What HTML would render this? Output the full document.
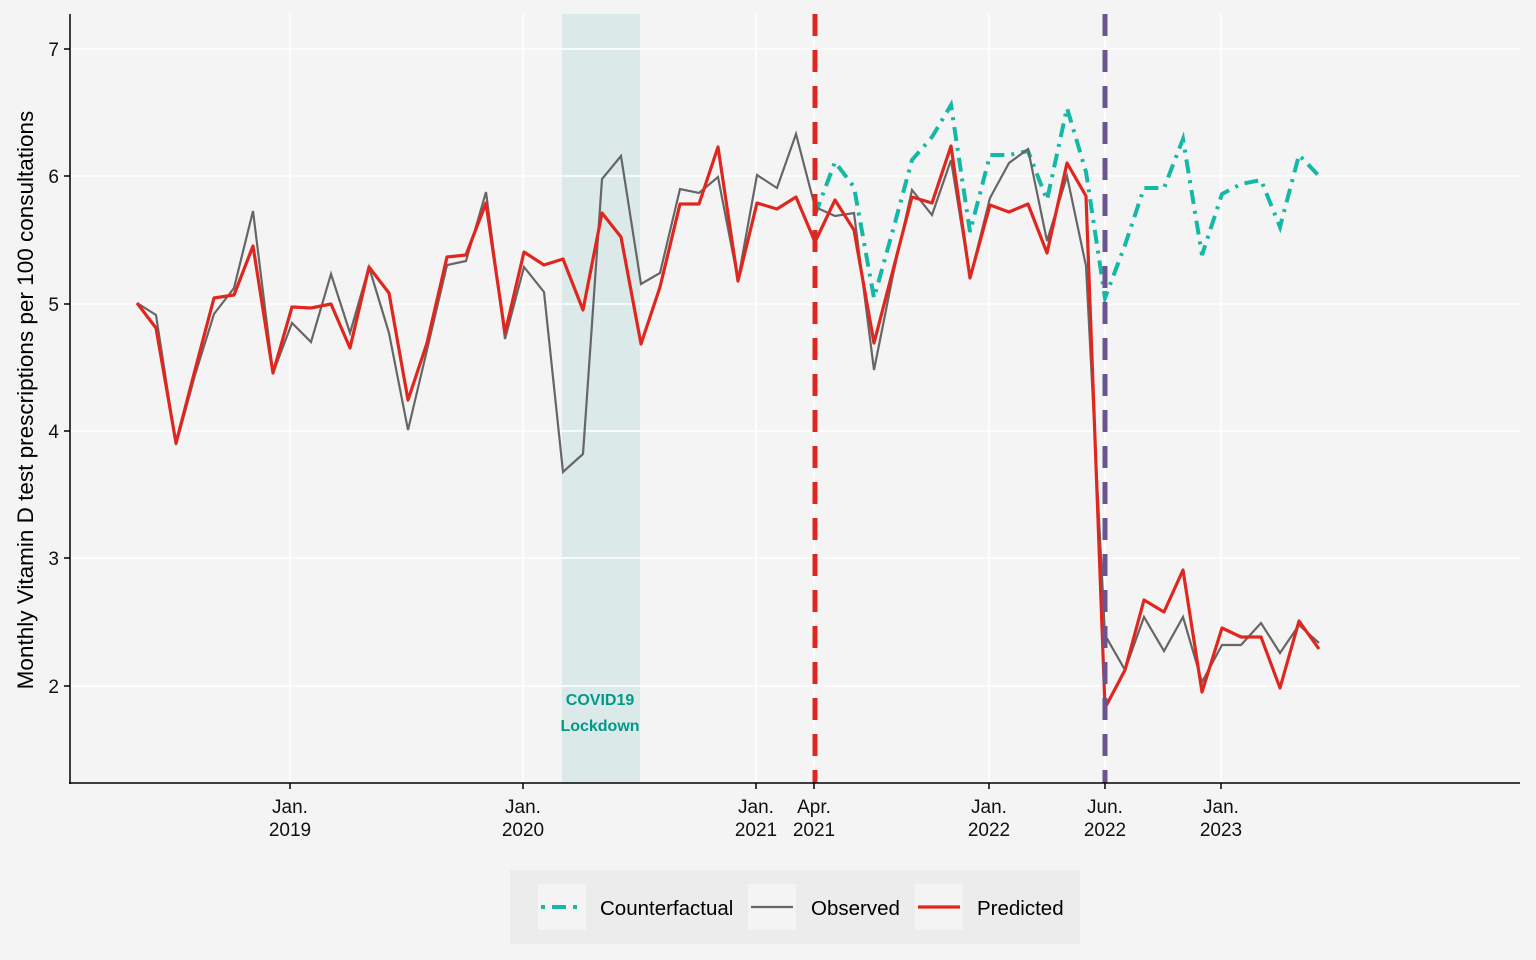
<!DOCTYPE html>
<html><head><meta charset="utf-8"><style>
body{margin:0;background:#f4f4f4;}
svg{display:block;font-family:"Liberation Sans",Arial,sans-serif;}
</style></head><body>
<svg width="1536" height="960" viewBox="0 0 1536 960" xmlns="http://www.w3.org/2000/svg">
<rect width="1536" height="960" fill="#f4f4f4"/>
<rect x="562" y="14" width="78" height="769" fill="#dbe9e8"/>
<g stroke="#ffffff" stroke-width="1.6" fill="none">
<line x1="70" y1="49" x2="1520" y2="49"/><line x1="70" y1="176" x2="1520" y2="176"/>
<line x1="70" y1="304" x2="1520" y2="304"/><line x1="70" y1="431" x2="1520" y2="431"/>
<line x1="70" y1="558" x2="1520" y2="558"/><line x1="70" y1="686" x2="1520" y2="686"/>
<line x1="290" y1="14" x2="290" y2="783"/><line x1="523" y1="14" x2="523" y2="783"/>
<line x1="756" y1="14" x2="756" y2="783"/><line x1="814" y1="14" x2="814" y2="783"/>
<line x1="989" y1="14" x2="989" y2="783"/><line x1="1105" y1="14" x2="1105" y2="783"/>
<line x1="1221" y1="14" x2="1221" y2="783"/>
</g>
<text x="600" y="705" fill="#00998a" font-size="16" font-weight="bold" text-anchor="middle">COVID19</text>
<text x="600" y="731" fill="#00998a" font-size="16" font-weight="bold" text-anchor="middle">Lockdown</text>
<polyline fill="none" stroke="#14b8a6" stroke-width="4" stroke-dasharray="14 7 3 7" points="815,215 835,162 854,187 874,298 893,230 912,160 932,137 951,105 970,232 990,155 1009,155 1028,151 1047,200 1067,108 1086,172 1105,298 1125,245 1144,188 1164,188 1183,139 1202,255 1222,194 1241,184 1261,180 1280,227 1299,155 1319,176"/>
<polyline fill="none" stroke="#666666" stroke-width="2.2" points="137,303 156,315 176,445 195,375 214,314 234,288 253,211 273,373 292,323 311,342 331,274 350,333 369,267 389,333 408,430 427,350 447,265 466,261 486,192 505,339 524,267 544,292 563,472 583,454 602,179 621,156 641,284 660,273 680,189 699,193 718,177 738,280 757,175 777,188 796,134 815,207 835,216 854,213 874,370 893,275 912,190 932,215 951,160 970,278 990,198 1009,163 1028,149 1047,241 1067,176 1086,266 1105,635 1125,670 1144,617 1164,651 1183,617 1202,682 1222,645 1241,645 1261,623 1280,653 1299,625 1319,643"/>
<polyline fill="none" stroke="#e0271f" stroke-width="3.2" stroke-linejoin="round" points="137,303 156,328 176,443 195,370 214,298 234,295 253,246 273,373 292,307 311,308 331,304 350,348 369,267 389,293 408,400 427,343 447,257 466,255 486,203 505,333 524,252 544,265 563,259 583,310 602,213 621,237 641,344 660,287 680,204 699,204 718,147 738,281 757,203 777,209 796,197 815,242 835,200 854,230 874,343 893,270 912,197 932,203 951,146 970,278 990,205 1009,212 1028,204 1047,253 1067,163 1086,196 1105,708 1125,670 1144,600 1164,612 1183,570 1202,692 1222,628 1241,637 1261,637 1280,688 1299,621 1319,649"/>
<line x1="815" y1="14" x2="815" y2="783" stroke="#e0271f" stroke-width="5" stroke-dasharray="22 14"/>
<line x1="1105" y1="14" x2="1105" y2="783" stroke="#6a5590" stroke-width="5" stroke-dasharray="22 14"/>
<g stroke="#000" stroke-width="1.5">
<line x1="70" y1="14" x2="70" y2="784"/><line x1="69" y1="783" x2="1520" y2="783"/>
<line x1="64" y1="49" x2="70" y2="49"/><line x1="64" y1="176" x2="70" y2="176"/><line x1="64" y1="304" x2="70" y2="304"/>
<line x1="64" y1="431" x2="70" y2="431"/><line x1="64" y1="558" x2="70" y2="558"/><line x1="64" y1="686" x2="70" y2="686"/>
<line x1="290" y1="783" x2="290" y2="789"/><line x1="523" y1="783" x2="523" y2="789"/><line x1="756" y1="783" x2="756" y2="789"/>
<line x1="814" y1="783" x2="814" y2="789"/><line x1="989" y1="783" x2="989" y2="789"/><line x1="1105" y1="783" x2="1105" y2="789"/>
<line x1="1221" y1="783" x2="1221" y2="789"/>
</g>
<g font-size="19" fill="#111" text-anchor="end">
<text x="59" y="56">7</text><text x="59" y="183">6</text><text x="59" y="311">5</text>
<text x="59" y="438">4</text><text x="59" y="565">3</text><text x="59" y="693">2</text>
</g>
<g font-size="19" fill="#111" text-anchor="middle">
<text x="290" y="813">Jan.</text><text x="290" y="836">2019</text>
<text x="523" y="813">Jan.</text><text x="523" y="836">2020</text>
<text x="756" y="813">Jan.</text><text x="756" y="836">2021</text>
<text x="814" y="813">Apr.</text><text x="814" y="836">2021</text>
<text x="989" y="813">Jan.</text><text x="989" y="836">2022</text>
<text x="1105" y="813">Jun.</text><text x="1105" y="836">2022</text>
<text x="1221" y="813">Jan.</text><text x="1221" y="836">2023</text>
</g>
<text transform="translate(33,400) rotate(-90)" font-size="22.5" fill="#000" text-anchor="middle">Monthly Vitamin D test prescriptions per 100 consultations</text>
<rect x="510" y="870" width="570" height="74" fill="#ececec"/>
<rect x="538" y="884" width="48" height="46" fill="#f4f4f4"/>
<rect x="748" y="884" width="48" height="46" fill="#f4f4f4"/>
<rect x="915" y="884" width="48" height="46" fill="#f4f4f4"/>
<line x1="541" y1="907" x2="583" y2="907" stroke="#14b8a6" stroke-width="4" stroke-dasharray="4 7 14 7"/>
<line x1="751" y1="907" x2="793" y2="907" stroke="#666" stroke-width="2.2"/>
<line x1="918" y1="907" x2="960" y2="907" stroke="#e0271f" stroke-width="3.2"/>
<g font-size="20.5" fill="#000">
<text x="600" y="915">Counterfactual</text><text x="811" y="915">Observed</text><text x="977" y="915">Predicted</text>
</g>
</svg>
</body></html>
